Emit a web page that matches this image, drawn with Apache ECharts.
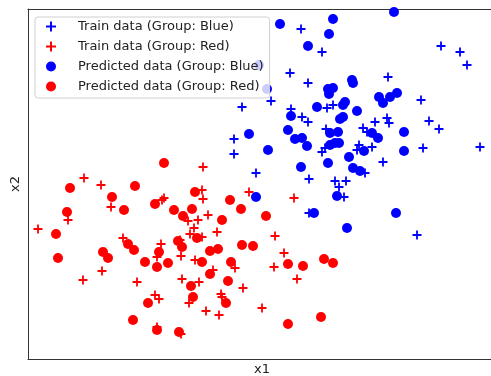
<!DOCTYPE html>
<html>
<head>
<meta charset="utf-8">
<script src="https://cdn.jsdelivr.net/npm/echarts@6/dist/echarts.min.js"></script>
<style>
  html, body { margin: 0; padding: 0; background: #fff; }
  #chart { width: 491px; height: 376px; }
</style>
</head>
<body>
<div id="chart"></div>
<script>
// data, [x1, x2]
var trainBlue = [
    [27.3, 33.0], [29.4, 30.7], [26.2, 28.6], [28.0, 27.6], [24.3, 25.8], [21.4, 25.2],
    [26.3, 25.0], [29.9, 25.1], [30.5, 25.4], [36.0, 28.2], [41.3, 31.3], [43.2, 30.7],
    [43.9, 29.4], [39.3, 25.9], [27.4, 24.2], [28.0, 23.7], [34.7, 23.7], [35.9, 24.1],
    [36.1, 23.6], [40.1, 23.8], [33.5, 23.1], [33.9, 22.7], [41.1, 23.0], [29.8, 23.0],
    [20.6, 22.0], [20.6, 20.5], [22.8, 18.6], [33.1, 21.4], [32.9, 20.9], [34.4, 21.2],
    [29.4, 20.7], [29.7, 21.1], [39.5, 21.1], [45.2, 21.2], [35.5, 19.7], [33.7, 18.6],
    [28.1, 18.0], [30.7, 17.8], [31.1, 17.2], [31.8, 17.8], [31.6, 16.2], [28.1, 14.6],
    [38.9, 12.4]
];
var trainRed = [
    [22.1, 16.7], [26.6, 16.1], [24.7, 12.3], [5.6, 18.1], [7.3, 17.4], [8.3, 15.2],
    [4.0, 13.9], [1.0, 13.0], [13.6, 16.1], [13.4, 15.9], [9.5, 12.1], [13.3, 11.5],
    [12.9, 10.2], [17.5, 19.2], [17.4, 16.9], [17.5, 16.0], [16.0, 13.8], [17.0, 13.9],
    [18.0, 14.4], [16.6, 13.1], [16.2, 12.5], [17.4, 12.2], [18.9, 12.7], [25.6, 10.6],
    [15.2, 11.9], [15.3, 10.3], [16.7, 9.9], [7.4, 8.8], [5.5, 7.9], [10.9, 7.7],
    [15.4, 8.0], [17.1, 7.7], [18.5, 8.9], [20.7, 9.1], [24.6, 9.2], [26.9, 8.0],
    [21.5, 7.1], [12.7, 6.4], [13.1, 6.0], [16.1, 5.6], [19.3, 6.5], [19.4, 6.2],
    [17.8, 4.8], [19.1, 4.4], [23.4, 5.1], [12.9, 3.2], [15.3, 2.5]
];
var predBlue = [
    [25.2, 33.5], [30.5, 34.0], [30.1, 32.5], [28.0, 31.3], [36.6, 34.7], [32.4, 27.9],
    [32.5, 27.6], [30.0, 27.0], [30.5, 27.1], [30.1, 26.5], [35.1, 26.2], [35.5, 25.6],
    [36.2, 26.2], [36.9, 26.6], [28.9, 25.2], [31.7, 25.7], [31.5, 25.4], [32.9, 24.8],
    [31.5, 24.2], [31.2, 24.0], [26.3, 24.3], [26.0, 22.9], [26.7, 22.0], [27.4, 22.1],
    [27.9, 21.3], [30.2, 22.6], [31.0, 22.7], [30.2, 21.4], [30.7, 21.6], [31.1, 21.6],
    [34.4, 22.6], [35.0, 22.1], [37.6, 22.7], [33.6, 20.8], [37.6, 20.8], [32.1, 20.2],
    [22.1, 22.5], [24.0, 20.9], [30.0, 19.6], [27.3, 19.2], [32.5, 19.1], [33.2, 18.8],
    [30.9, 16.3], [22.8, 16.2], [28.6, 14.6], [36.8, 14.6], [31.9, 13.1],
    [23.1, 29.4], [23.9, 27.0]
];
var predRed = [
    [20.2, 15.9], [21.3, 15.0], [19.4, 13.9], [23.8, 14.3], [21.4, 11.4], [22.5, 11.3],
    [13.6, 19.6], [4.2, 17.1], [10.7, 17.3], [8.4, 16.2], [3.9, 14.7], [9.6, 14.9],
    [12.7, 15.5], [14.6, 14.9], [2.8, 12.5], [7.5, 10.7], [8.0, 10.1], [10.0, 11.5],
    [10.6, 10.9], [11.7, 9.7], [13.1, 10.7], [15.0, 11.8], [15.4, 11.2], [3.0, 10.1],
    [16.7, 16.7], [16.4, 15.0], [15.5, 14.3], [16.9, 12.1], [18.2, 10.8], [19.0, 11.0],
    [12.9, 9.2], [14.0, 9.6], [17.4, 9.7], [20.3, 9.7], [18.2, 8.5], [20.0, 7.8],
    [16.3, 7.3], [16.5, 6.2], [19.8, 5.6], [12.0, 5.6], [10.5, 3.9], [12.9, 2.9],
    [15.1, 2.7], [26.0, 9.5], [27.5, 9.3], [29.6, 10.0], [30.5, 9.6], [26.0, 3.5],
    [29.3, 4.2]
];
var seriesNames = [
    'Train data (Group: Blue)',
    'Train data (Group: Red)',
    'Predicted data (Group: Blue)',
    'Predicted data (Group: Red)'
];

var plus = 'path://M4,0H6V4H10V6H6V10H4V6H0V4H4Z';
var font = 'DejaVu Sans';
var spine = { show: true, onZero: false, lineStyle: { color: '#333', width: 1 } };
var hidden = {
    axisTick: { show: false },
    axisLabel: { show: false },
    splitLine: { show: false }
};

var myChart = echarts.init(document.getElementById('chart'), null, { renderer: 'canvas' });
var option = {
    animation: false,
    backgroundColor: '#fff',
    grid: {
        left: 28,
        right: -5,
        top: 9,
        bottom: 17,
        outerBoundsMode: 'none',
        containLabel: false
    },
    legend: {
        orient: 'vertical',
        left: 35,
        top: 17,
        z: 10,
        padding: [3, 6, 5, 11],
        itemGap: 7,
        itemWidth: 26,
        itemHeight: 10,
        backgroundColor: 'rgba(255,255,255,0.8)',
        borderColor: '#d0d0d0',
        borderWidth: 1,
        borderRadius: 3,
        textStyle: {
            fontFamily: font,
            fontSize: 13,
            color: '#222',
            padding: [0, 0, 0, 9]
        },
        data: [
            { name: seriesNames[0], icon: plus },
            { name: seriesNames[1], icon: plus },
            { name: seriesNames[2], icon: 'circle' },
            { name: seriesNames[3], icon: 'circle' }
        ]
    },
    xAxis: [Object.assign({
        type: 'value',
        position: 'bottom',
        min: 0,
        max: 46.8,
        name: 'x1',
        nameLocation: 'middle',
        nameGap: 4,
        nameTextStyle: { fontFamily: font, fontSize: 13, color: '#222' },
        axisLine: spine
    }, hidden), Object.assign({
        type: 'value',
        position: 'top',
        min: 0,
        max: 46.8,
        axisLine: spine
    }, hidden)],
    yAxis: Object.assign({
        type: 'value',
        min: 0,
        max: 35,
        name: 'x2',
        nameLocation: 'middle',
        nameGap: 6,
        nameTextStyle: { fontFamily: font, fontSize: 13, color: '#222' },
        axisLine: spine
    }, hidden),
    series: [{
        name: seriesNames[0],
        type: 'scatter',
        data: trainBlue,
        symbol: plus,
        symbolSize: 9,
        symbolKeepAspect: true,
        itemStyle: { color: '#0000ff', opacity: 1 }
    }, {
        name: seriesNames[1],
        type: 'scatter',
        data: trainRed,
        symbol: plus,
        symbolSize: 9,
        symbolKeepAspect: true,
        itemStyle: { color: '#ff0000', opacity: 1 }
    }, {
        name: seriesNames[2],
        type: 'scatter',
        data: predBlue,
        symbol: 'circle',
        symbolSize: 10,
        itemStyle: { color: '#0000ff', opacity: 1 }
    }, {
        name: seriesNames[3],
        type: 'scatter',
        data: predRed,
        symbol: 'circle',
        symbolSize: 10,
        itemStyle: { color: '#ff0000', opacity: 1 }
    }]
};
myChart.setOption(option);
</script>
</body>
</html>
